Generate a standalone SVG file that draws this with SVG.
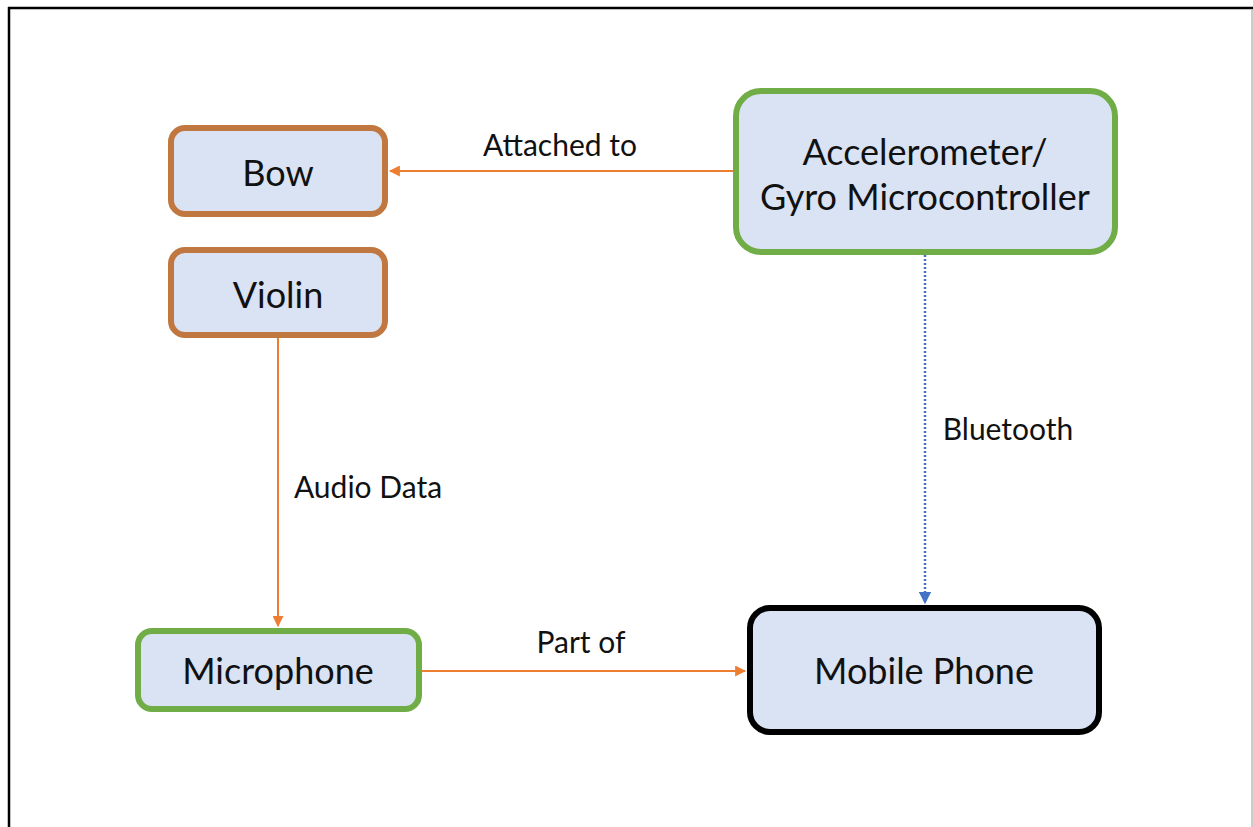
<svg xmlns="http://www.w3.org/2000/svg" width="1253" height="827" viewBox="0 0 1253 827">
  <style>
    .node { fill: #DAE3F3; stroke-width: 6; }
    .brown { stroke: #C07840; }
    .green { stroke: #70AD47; }
    .black { stroke: #000000; }
    .ntext { font-family: Lato, "Liberation Sans", sans-serif; font-size: 36px; fill: #111; text-anchor: middle; dominant-baseline: central; }
    .ltext { font-family: Lato, "Liberation Sans", sans-serif; font-size: 30px; fill: #111; text-anchor: middle; dominant-baseline: central; }
    .orange { stroke: #ED7D31; stroke-width: 2; fill: none; }
    .blue { stroke: #4472C4; stroke-width: 2.5; fill: none; stroke-dasharray: 2 2; }
  </style>
  <defs>
    <marker id="ao" viewBox="0 0 10 10" refX="9" refY="5" markerWidth="5.5" markerHeight="5.5" orient="auto">
      <path d="M0,0 L10,5 L0,10 Z" fill="#ED7D31"/>
    </marker>
    <marker id="ab" viewBox="0 0 10 10" refX="9" refY="5" markerWidth="5" markerHeight="5" orient="auto">
      <path d="M0,0 L10,5 L0,10 Z" fill="#4472C4"/>
    </marker>
  </defs>

  <rect width="1253" height="827" fill="#FFFFFF"/>
  <!-- page frame -->
  <line x1="9" y1="7" x2="9" y2="827" stroke="#000" stroke-width="2.5"/>
  <line x1="8" y1="8" x2="1253" y2="8" stroke="#000" stroke-width="2.5"/>
  <line x1="1252" y1="9" x2="1252" y2="827" stroke="#BBB" stroke-width="1.5"/>

  <g id="connectors">
    <line class="orange" x1="733" y1="171" x2="390" y2="171" marker-end="url(#ao)"/>
    <line class="orange" x1="278" y1="338" x2="278" y2="626" marker-end="url(#ao)"/>
    <line class="orange" x1="422" y1="671" x2="745" y2="671" marker-end="url(#ao)"/>
    <line class="blue" x1="925" y1="255" x2="925" y2="603" marker-end="url(#ab)"/>
    <text class="ltext" x="560" y="144">Attached to</text>
    <text class="ltext" x="368" y="486">Audio Data</text>
    <text class="ltext" x="1008" y="428">Bluetooth</text>
    <text class="ltext" x="581" y="641">Part of</text>
  </g>

  <g id="bow">
    <rect class="node brown" x="171" y="128" width="214" height="86" rx="14"/>
    <text class="ntext" x="278" y="172">Bow</text>
  </g>
  <g id="violin">
    <rect class="node brown" x="171" y="250" width="214" height="85" rx="14"/>
    <text class="ntext" x="278" y="294">Violin</text>
  </g>
  <g id="accelerometer">
    <rect class="node green" x="736" y="91" width="379" height="161" rx="25"/>
    <text class="ntext" x="925" y="151">Accelerometer/</text>
    <text class="ntext" x="925" y="196">Gyro Microcontroller</text>
  </g>
  <g id="microphone">
    <rect class="node green" x="138" y="631" width="281" height="78" rx="14"/>
    <text class="ntext" x="278" y="670">Microphone</text>
  </g>
  <g id="mobile-phone">
    <rect class="node black" x="750" y="608" width="349" height="124" rx="20"/>
    <text class="ntext" x="924" y="670">Mobile Phone</text>
  </g>
</svg>
